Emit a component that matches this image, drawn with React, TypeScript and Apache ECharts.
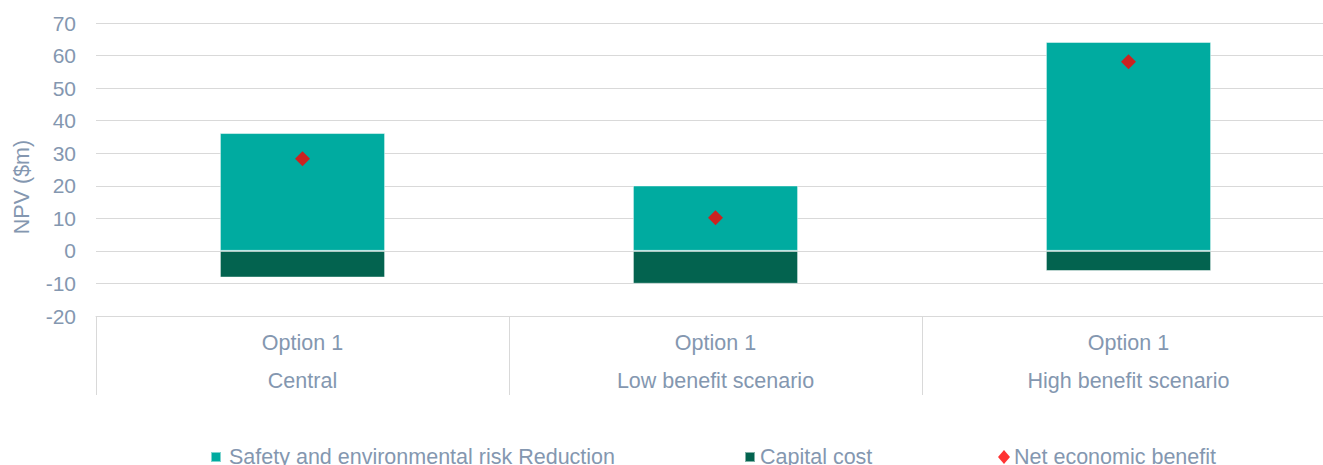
import React, { useEffect, useRef } from "react";
import * as echarts from "echarts";

const categories = ["Option 1\nCentral", "Option 1\nLow benefit scenario", "Option 1\nHigh benefit scenario"];
const riskReduction = [36.2, 20.1, 64.2];
const capitalCost = [-8.2, -10.1, -6.2];
const netBenefit = [28.3, 10.2, 58.1];

const FONT = "'Liberation Sans', Arial, sans-serif";
const LABEL = "#8497b0";

export default function App() {
  const ref = useRef<HTMLDivElement>(null);
  useEffect(() => {
    const chart = echarts.init(ref.current!, null, { renderer: "svg" });
    const legendText = { fontFamily: FONT, fontSize: 21.5, color: LABEL };
    chart.setOption({
      animation: false,
      textStyle: { fontFamily: FONT },
      grid: { left: 96, right: 0, top: 23, bottom: 149, containLabel: false },
      legend: [
        {
          data: [{ name: "Safety and environmental risk Reduction", icon: "rect" }],
          left: 210, top: 446, padding: 0, itemWidth: 10, itemHeight: 10,
          textStyle: { ...legendText, padding: [0, 0, 0, 3] },
        },
        {
          data: [{ name: "Capital cost", icon: "rect" }],
          left: 744, top: 446, padding: 0, itemWidth: 10, itemHeight: 10,
          textStyle: { ...legendText },
        },
        {
          data: [{ name: "Net economic benefit", icon: "diamond" }],
          left: 998, top: 446, padding: 0, itemWidth: 12, itemHeight: 14,
          textStyle: { ...legendText, padding: [0, 0, 0, -1] },
        },
      ],
      xAxis: {
        type: "category",
        data: categories,
        axisLine: { show: true, onZero: false, lineStyle: { color: "#d9d9d9", width: 1 } },
        axisTick: { show: true, length: 79, lineStyle: { color: "#d9d9d9", width: 1 } },
        axisLabel: {
          color: LABEL, fontFamily: FONT, fontSize: 21.5, lineHeight: 38, margin: 8,
        },
        splitLine: { show: false },
      },
      yAxis: {
        type: "value",
        min: -20, max: 70, interval: 10,
        axisLine: { show: false },
        axisTick: { show: false },
        axisLabel: { color: LABEL, fontFamily: FONT, fontSize: 21, margin: 20 },
        splitLine: { lineStyle: { color: "#d9d9d9", width: 1 } },
      },
      graphic: [
        {
          type: "text",
          x: 22, y: 187, rotation: Math.PI / 2,
          style: {
            text: "NPV ($m)", fill: LABEL, font: `21.5px ${FONT}`,
            textAlign: "center", textVerticalAlign: "middle",
          },
        },
      ],
      series: [
        {
          name: "Safety and environmental risk Reduction",
          type: "bar", stack: "npv", barWidth: "40%",
          data: riskReduction,
          itemStyle: { color: "#00aba0", borderColor: "rgba(255,255,255,0.5)", borderWidth: 1 },
        },
        {
          name: "Capital cost",
          type: "bar", stack: "npv", barWidth: "40%",
          data: capitalCost,
          itemStyle: { color: "#03634f", borderColor: "rgba(255,255,255,0.5)", borderWidth: 1 },
        },
        {
          name: "Net economic benefit",
          type: "scatter", symbol: "diamond", symbolSize: 15,
          data: netBenefit,
          itemStyle: { color: "#ff0000" },
          z: 5,
        },
      ],
    });
    return () => chart.dispose();
  }, []);
  return (
    <div
      ref={ref}
      style={{ position: "fixed", left: 0, top: 0, width: 1335, height: 465, background: "#fff" }}
    />
  );
}
